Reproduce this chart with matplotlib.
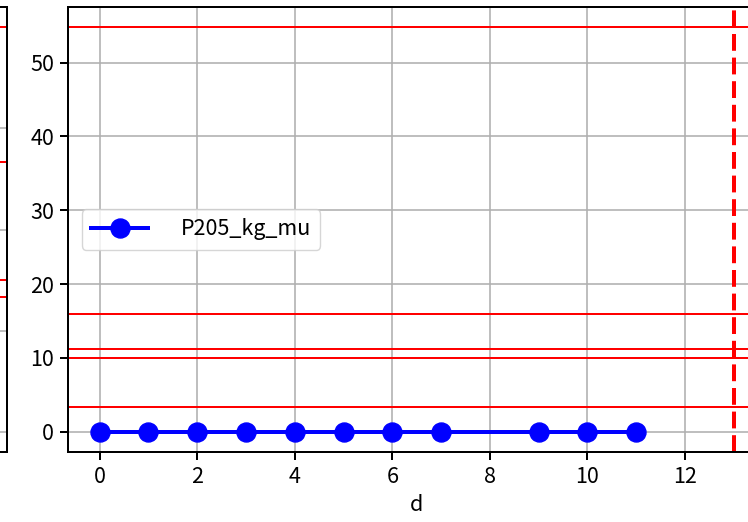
import matplotlib
matplotlib.use('Agg')
import matplotlib.pyplot as plt

plt.rcParams['font.family'] = ['Noto Sans CJK JP', 'DejaVu Sans']
plt.rcParams['axes.unicode_minus'] = False

# ---- data ----
d_values = [0, 1, 2, 3, 4, 5, 6, 7, 9, 10, 11]
p205_kg_mu = [0, 0, 0, 0, 0, 0, 0, 0, 0, 0, 0]
series_label = "P205_kg_mu"
right_thresholds = [54.8, 16.0, 11.2, 10.0, 3.3]
vline_d = 13

left_values = [0, 0, 0, 0, 0, 0, 0, 0, 0, 0, 0]
left_thresholds = [4.0, 2.67, 1.5, 1.33]
left_yticks = [0, 1, 2, 3, 4]

# ---- styling (pixels -> points at dpi 100) ----
PX = 0.72
FS = 15.5
EM = FS / PX
W, H = 748, 522

plt.rcParams.update({
    'font.size': FS,
    'axes.linewidth': 2 * PX,
    'xtick.major.size': 8 * PX,
    'ytick.major.size': 8 * PX,
    'xtick.major.width': 2 * PX,
    'ytick.major.width': 2 * PX,
    'xtick.major.pad': 6 * PX,
    'ytick.major.pad': 6 * PX,
    'grid.color': '#b0b0b0',
    'grid.linewidth': 1.6 * PX,
})

fig = plt.figure(figsize=(W / 100, H / 100), dpi=100)

bottom = (H - 452) / H
top = (H - 7) / H
ax_w = (765.5 - 68) / W
ax2 = fig.add_axes([68 / W, bottom, ax_w, top - bottom])
ax1 = fig.add_axes([7 / W - ax_w, bottom, ax_w, top - bottom])

# left (mostly cropped) panel
ax1.plot(d_values, left_values, color='blue', marker='o', lw=4 * PX, ms=19 * PX)
for v in left_thresholds:
    ax1.axhline(v, color='red', lw=2 * PX)
ax1.axvline(vline_d, color='red', lw=4 * PX, linestyle=(0, (4.2, 1.7)))
ax1.set_yticks(left_yticks)
ax1.grid(True)
ax1.tick_params(labelleft=False, labelbottom=False)

# right panel
ax2.plot(d_values, p205_kg_mu, color='blue', marker='o', lw=4 * PX, ms=19 * PX,
         label=series_label)
for v in right_thresholds:
    ax2.axhline(v, color='red', lw=2 * PX)
ax2.axvline(vline_d, color='red', lw=4 * PX, linestyle=(0, (4.2, 1.7)))
ax2.grid(True)
ax2.set_xlabel('d')
ax2.set_xticks([0, 2, 4, 6, 8, 10, 12])
ax2.legend(loc='center left', fontsize=FS, handlelength=57 / EM,
           handletextpad=33 / EM, borderaxespad=14 / EM, borderpad=0.42)

fig.savefig('out.png', dpi=100)
